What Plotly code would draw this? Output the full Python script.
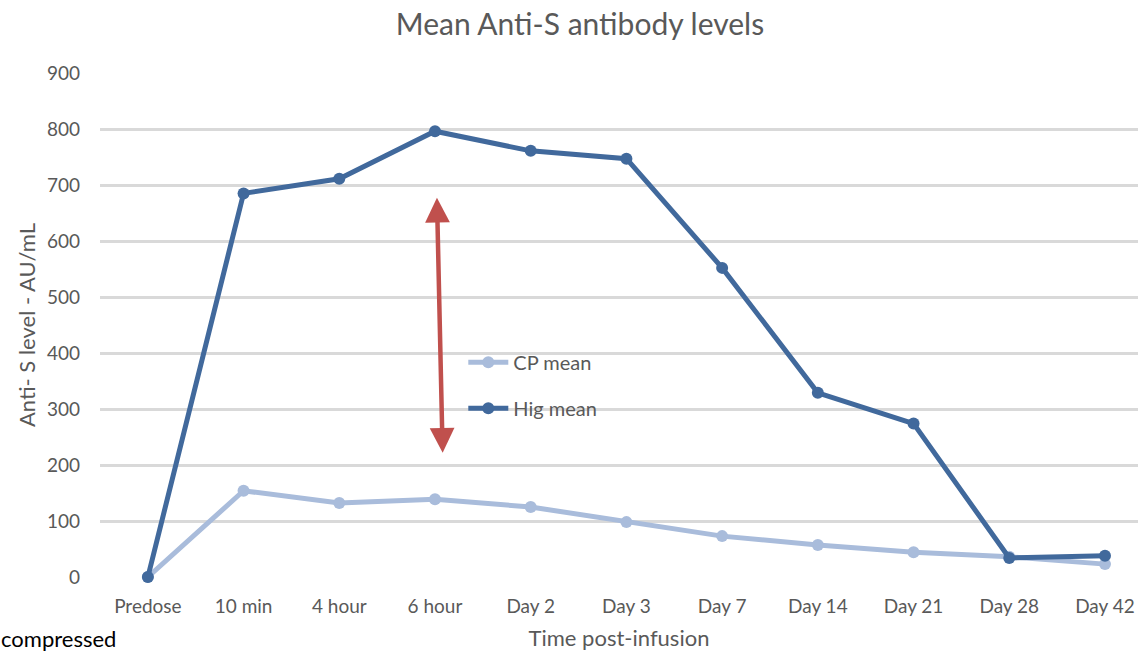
import plotly.graph_objects as go

categories = ["Predose", "10 min", "4 hour", "6 hour", "Day 2", "Day 3",
              "Day 7", "Day 14", "Day 21", "Day 28", "Day 42"]
cp_mean = [0, 154, 132, 139, 125, 98, 73, 57, 44, 36, 23]
hig_mean = [0, 685, 711, 796, 761, 747, 552, 329, 274, 34, 38]
y_ticks = [0, 100, 200, 300, 400, 500, 600, 700, 800, 900]

FONT = "Lato"
GREY = "#595959"

fig = go.Figure()
fig.add_trace(go.Scatter(
    x=categories, y=cp_mean, name="CP mean", mode="lines+markers",
    line=dict(color="#A9BCDB", width=5),
    marker=dict(color="#A9BCDB", size=12), legendgroup="a",
    cliponaxis=False))
fig.add_trace(go.Scatter(
    x=categories, y=hig_mean, name="Hig mean", mode="lines+markers",
    line=dict(color="#41699C", width=5),
    marker=dict(color="#41699C", size=12), legendgroup="b",
    cliponaxis=False))

fig.update_layout(
    width=1138, height=651,
    margin=dict(l=100, r=0, t=73, b=74),
    paper_bgcolor="white", plot_bgcolor="white",
    font=dict(family=FONT, color=GREY, size=19),
    title=dict(text="Mean Anti-S antibody levels", x=0.4624, xref="paper",
               xanchor="center", y=0.962, yanchor="middle",
               font=dict(family=FONT, size=30, color=GREY)),
    xaxis=dict(type="category", range=[-0.5, 10.345], showgrid=False,
               showline=False, ticks="", tickfont=dict(size=19, color=GREY),
               ticklabelstandoff=16, automargin=False,
               title=dict(text="Time post-infusion", standoff=16,
                          font=dict(size=22, color=GREY))),
    yaxis=dict(range=[0, 900], tickvals=y_ticks, gridcolor="#D9D9D9",
               gridwidth=2.5, zeroline=False, showline=False, ticks="",
               ticklabelstandoff=19, tickfont=dict(size=19, color=GREY),
               automargin=False,
               title=dict(text="Anti- S level - AU/mL", standoff=5,
                          font=dict(size=22, color=GREY))),
    legend=dict(x=0.35, y=0.465, xanchor="left", yanchor="top",
                bgcolor="rgba(0,0,0,0)", traceorder="grouped",
                tracegroupgap=17, font=dict(size=20, color=GREY),
                itemwidth=40),
    showlegend=True,
)

# red double-headed arrow
fig.add_annotation(x=3.08, y=222, ax=3.02, ay=680, xref="x", yref="y",
                   axref="x", ayref="y", showarrow=True, text="",
                   arrowhead=2, startarrowhead=2, arrowside="end+start",
                   arrowwidth=4.5, arrowsize=1.1, startarrowsize=1.1,
                   arrowcolor="#C0504D")

fig.add_annotation(x=0, y=0, xref="paper", yref="paper", xanchor="left",
                   yanchor="middle", xshift=-101, yshift=-61, showarrow=False,
                   text="compressed", font=dict(family=FONT, size=22,
                                                color="black"))

fig.write_html("out.html", config={"displayModeBar": False},
               post_script="document.body.style.margin='0';"
                           "document.body.style.overflow='hidden';")
